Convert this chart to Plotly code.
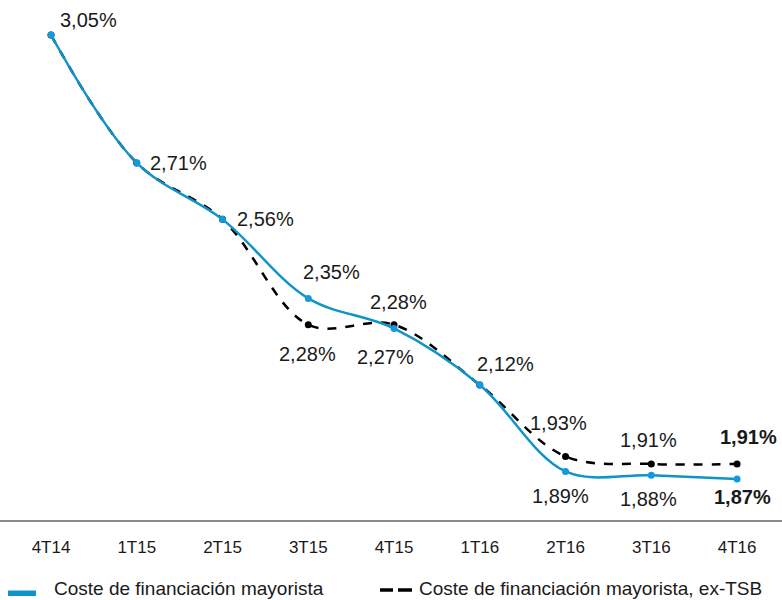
import plotly.graph_objects as go

categories = ["4T14", "1T15", "2T15", "3T15", "4T15", "1T16", "2T16", "3T16", "4T16"]
blue_vals = [3.05, 2.71, 2.56, 2.35, 2.27, 2.12, 1.89, 1.88, 1.87]
black_vals = [3.05, 2.71, 2.56, 2.28, 2.28, 2.12, 1.93, 1.91, 1.91]
blue_name = "Coste de financiación mayorista"
black_name = "Coste de financiación mayorista, ex-TSB"

# label offsets (px) for blue and black series; None = no label
blue_off = [(37, 15), (42, 0), (43, 0), (23, 26), (-9, -29), (26, 21), (-5, -25), (-3, -24), (5, -18)]
black_off = [None, None, None, (-1, -29), (4, 23), None, (-7, 33), (-3, 24), (11, 27)]

BLUE = "#0f94c9"
BLUE_M = "#1499e0"
FONT = "Liberation Sans, Arial, sans-serif"

x = list(range(len(categories)))

def fmt(v):
    return f"{v:.2f}%".replace(".", ",")

fig = go.Figure()
fig.add_trace(go.Scatter(
    x=x, y=black_vals, mode="lines+markers",
    line=dict(color="black", width=2.5, dash="dash", shape="spline", smoothing=1),
    marker=dict(color="black", size=7), showlegend=False))
fig.add_trace(go.Scatter(
    x=x, y=blue_vals, mode="lines+markers",
    line=dict(color=BLUE, width=2.5, shape="spline", smoothing=1),
    marker=dict(color=BLUE_M, size=7), showlegend=False))

anns = []
n = len(categories)
for vals, offs in ((blue_vals, blue_off), (black_vals, black_off)):
    for i, v in enumerate(vals):
        off = offs[i]
        if off is None:
            continue
        txt = fmt(v)
        if i == n - 1:
            txt = "<b>" + txt + "</b>"
        anns.append(dict(x=i, y=v, text=txt, showarrow=False, xshift=off[0], yshift=off[1],
                         font=dict(size=20, color="#1a1a1a", family=FONT)))

# manual legend (paper coords; plot area is 520 px tall)
def py(pix):
    return (520 - pix) / 520

anns.append(dict(xref="paper", yref="paper", x=52 / 782, y=py(588), xanchor="left", yanchor="middle",
                 text=blue_name, showarrow=False, font=dict(size=19, color="#1a1a1a", family=FONT)))
anns.append(dict(xref="paper", yref="paper", x=417 / 782, y=py(588), xanchor="left", yanchor="middle",
                 text=black_name, showarrow=False, font=dict(size=19, color="#1a1a1a", family=FONT)))
shapes = [
    dict(type="rect", xref="paper", yref="paper", x0=8 / 782, x1=36 / 782,
         y0=py(596), y1=py(590.5), fillcolor=BLUE, line=dict(width=0)),
    dict(type="line", xref="paper", yref="paper", x0=380 / 782, x1=393 / 782,
         y0=py(590), y1=py(590), line=dict(color="black", width=3.5)),
    dict(type="line", xref="paper", yref="paper", x0=398 / 782, x1=412 / 782,
         y0=py(590), y1=py(590), line=dict(color="black", width=3.5)),
]

fig.update_layout(
    width=782, height=600,
    margin=dict(l=0, r=0, t=0, b=80),
    paper_bgcolor="white", plot_bgcolor="white",
    annotations=anns, shapes=shapes,
    xaxis=dict(range=[-0.595, 8.524], tickmode="array", tickvals=x, ticktext=categories,
               showgrid=False, zeroline=False, showline=True, linecolor="#8a8a8a", linewidth=2,
               ticks="outside", ticklen=11, tickcolor="rgba(0,0,0,0)",
               tickfont=dict(size=17, color="#1a1a1a", family=FONT), fixedrange=True),
    yaxis=dict(range=[1.761, 3.143], visible=False, showgrid=False, zeroline=False),
    font=dict(family=FONT),
)

fig.write_html("out.html")
